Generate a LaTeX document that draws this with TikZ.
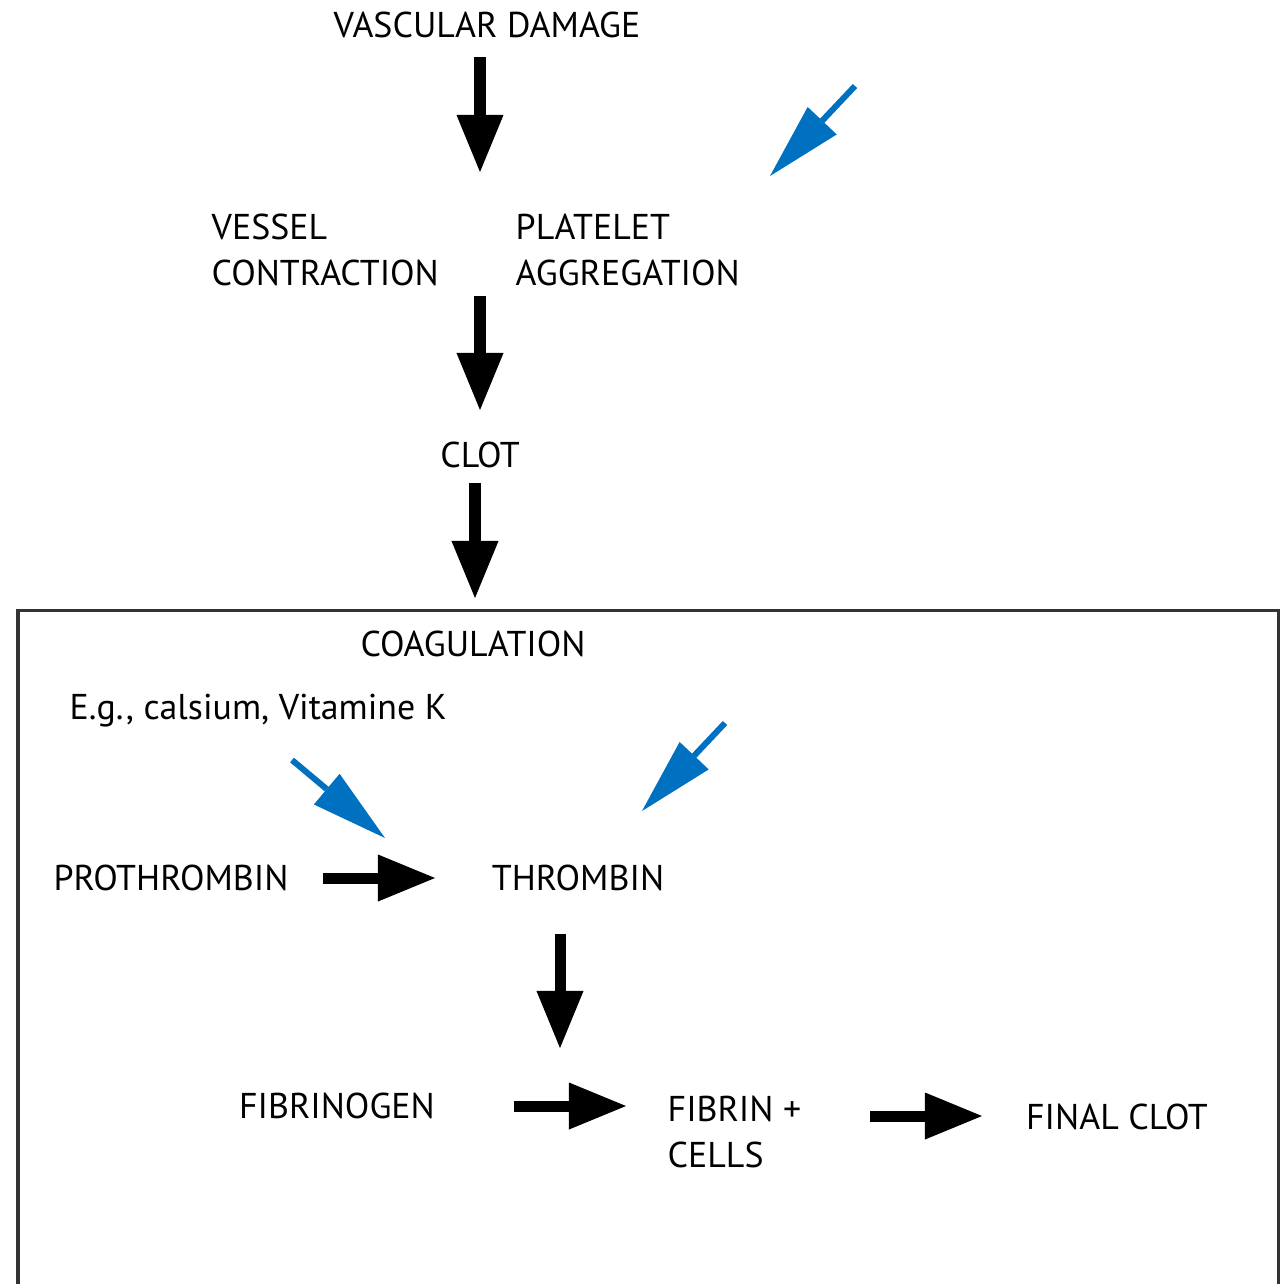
\documentclass[tikz,border=0pt]{standalone}
\usepackage{fontspec}
\setmainfont{PT Sans}
\usetikzlibrary{arrows.meta}
\definecolor{azure}{RGB}{0,112,192}
\definecolor{framegray}{RGB}{51,51,51}
\tikzset{
  lbl/.style={font=\fontsize{10.2}{13.1}\selectfont, inner sep=0pt},
  blk/.style={-{Triangle[length=5.7mm, width=4.7mm, line width=0pt]}, line width=1.1mm},
  blu/.style={-{Triangle[length=7.6mm, width=4mm, line width=0pt]}, line width=0.6mm, azure},
  frame/.style={draw=framegray, line width=0.3mm}
}

\begin{document}
\begin{tikzpicture}[x=0.01cm, y=-0.01cm]
		\useasboundingbox (0,0) rectangle (1284,1284);
		% coagulation frame, open at the bottom
		\draw[frame] (18,610) rectangle (1278,1320);
		\node[lbl, anchor=base] (vasc) at (487,37) {VASCULAR DAMAGE};
		\node[lbl, anchor=north west, align=left] (vess) at (211,213) {VESSEL\\CONTRACTION};
		\node[lbl, anchor=north west, align=left] (plat) at (515,213) {PLATELET\\AGGREGATION};
		\node[lbl, anchor=base] (clot) at (480,467) {CLOT};
		\node[lbl, anchor=base] (coag) at (473,656) {COAGULATION};
		\node[lbl, anchor=base west] (eg) at (69,719) {E.g., calsium, Vitamine K};
		\node[lbl, anchor=base] (proth) at (171,890) {PROTHROMBIN};
		\node[lbl, anchor=base] (thromb) at (578,890) {THROMBIN};
		\node[lbl, anchor=base] (fibgen) at (337,1118) {FIBRINOGEN};
		\node[lbl, anchor=north west, align=left] (fibrin) at (667,1095) {FIBRIN +\\CELLS};
		\node[lbl, anchor=base] (final) at (1117,1129) {FINAL CLOT};
		% arrow ends
		\coordinate (v0) at (480,57);   \coordinate (v1) at (480,172);
		\coordinate (c0) at (480,296);  \coordinate (c1) at (480,410);
		\coordinate (k0) at (475,483);  \coordinate (k1) at (475,598);
		\coordinate (p0) at (323,878);  \coordinate (p1) at (435,878);
		\coordinate (t0) at (560,934);  \coordinate (t1) at (560,1048);
		\coordinate (g0) at (514,1106); \coordinate (g1) at (626,1106);
		\coordinate (f0) at (870,1116); \coordinate (f1) at (982,1116);
		\coordinate (b0) at (855,86);   \coordinate (b1) at (770,176);
		\coordinate (e0) at (292,760);  \coordinate (e1) at (385,838);
		\coordinate (h0) at (725,723);  \coordinate (h1) at (642,811);
		\draw[blk] (v0) -- (v1);
		\draw[blk] (c0) -- (c1);
		\draw[blk] (k0) -- (k1);
		\draw[blk] (p0) -- (p1);
		\draw[blk] (t0) -- (t1);
		\draw[blk] (g0) -- (g1);
		\draw[blk] (f0) -- (f1);
		\draw[blu] (b0) -- (b1);
		\draw[blu] (e0) -- (e1);
		\draw[blu] (h0) -- (h1);
	\end{tikzpicture}
\end{document}
